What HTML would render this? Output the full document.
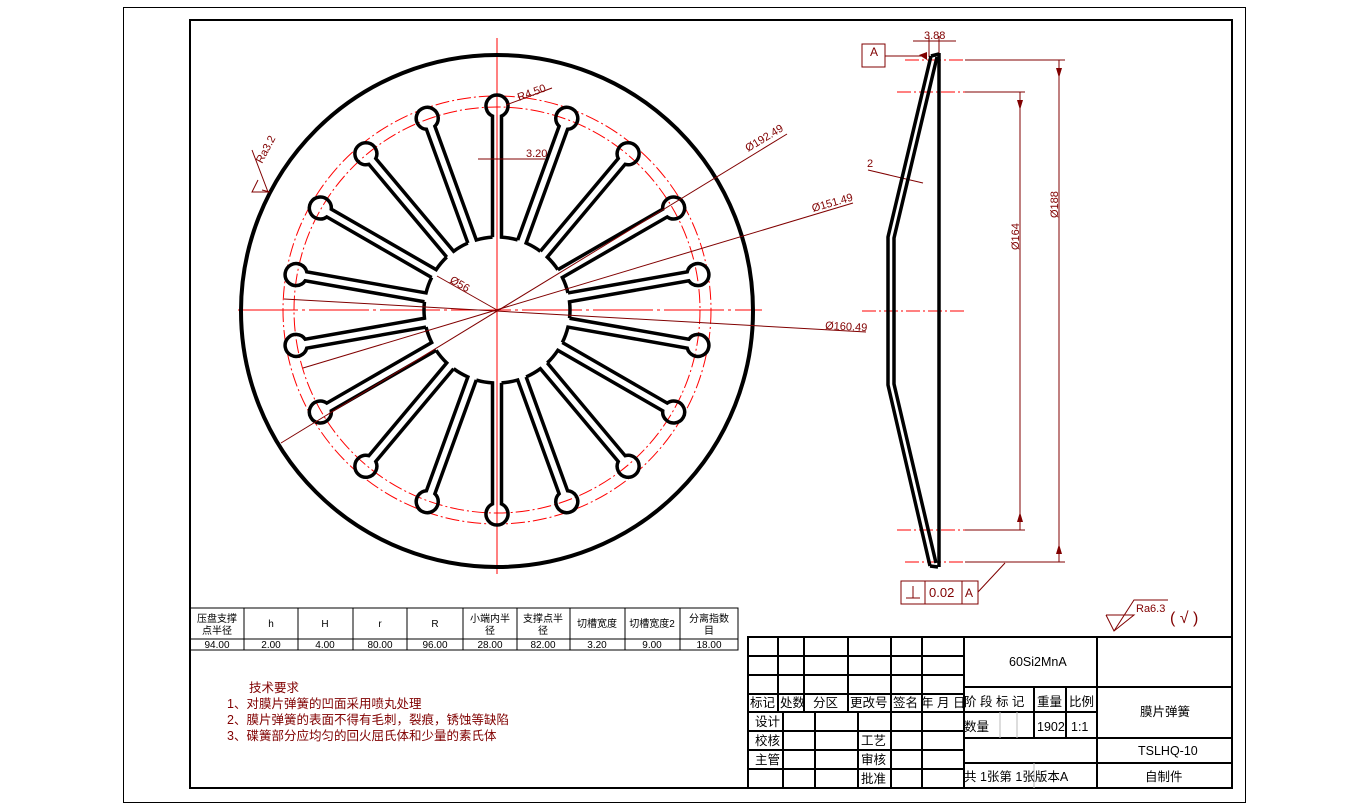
<!DOCTYPE html>
<html><head><meta charset="utf-8"><style>
html,body{margin:0;padding:0;background:#fff;}
svg{display:block;}
text{font-family:"Liberation Sans","Noto Sans CJK SC",sans-serif;}
</style></head><body>
<svg width="1369" height="809" viewBox="0 0 1369 809" xmlns="http://www.w3.org/2000/svg">
<defs>
<path id="slot" d="M-4.5,-72.86 L-4.5,-193.96 A11,11 0 1 1 4.5,-193.96 L4.5,-72.86 A73,73 0 0 1 20.69,-70.01" fill="none" stroke="#000" stroke-width="3.5"/>
</defs>
<rect x="123.5" y="7.5" width="1122" height="795" fill="none" stroke="#000" stroke-width="1"/>
<rect x="190" y="20" width="1042" height="768" fill="none" stroke="#000" stroke-width="2"/>

<!-- main view -->
<g stroke="#ff0000" stroke-width="1" fill="none" stroke-dasharray="14,3,2,3">
<circle cx="497" cy="310" r="203"/>
<circle cx="497" cy="310" r="214"/>
</g>
<line x1="497" y1="38" x2="497" y2="574" stroke="#ff0000" stroke-width="1"/>
<line x1="238" y1="310" x2="762" y2="310" stroke="#ff0000" stroke-width="1" stroke-dasharray="60,4,3,4"/>
<circle cx="497" cy="311" r="256" fill="none" stroke="#000" stroke-width="4"/>
<g transform="translate(497,310)">
<use href="#slot" transform="rotate(0)"/><use href="#slot" transform="rotate(20)"/><use href="#slot" transform="rotate(40)"/>
<use href="#slot" transform="rotate(60)"/><use href="#slot" transform="rotate(80)"/><use href="#slot" transform="rotate(100)"/>
<use href="#slot" transform="rotate(120)"/><use href="#slot" transform="rotate(140)"/><use href="#slot" transform="rotate(160)"/>
<use href="#slot" transform="rotate(180)"/><use href="#slot" transform="rotate(200)"/><use href="#slot" transform="rotate(220)"/>
<use href="#slot" transform="rotate(240)"/><use href="#slot" transform="rotate(260)"/><use href="#slot" transform="rotate(280)"/>
<use href="#slot" transform="rotate(300)"/><use href="#slot" transform="rotate(320)"/><use href="#slot" transform="rotate(340)"/>
</g>
<!-- dimension leaders -->
<g stroke="#800000" stroke-width="1" fill="none">
<line x1="281" y1="443" x2="787" y2="134"/>
<line x1="303" y1="368" x2="853" y2="203"/>
<line x1="284" y1="299" x2="866" y2="332"/>
<line x1="437" y1="276" x2="497" y2="310"/>
<line x1="506" y1="105" x2="552" y2="88"/>
<line x1="478" y1="159" x2="545" y2="159"/>
<polyline points="255,158 252,150 268,192 252,192 258,180"/>
<line x1="262" y1="190" x2="270" y2="192"/>
</g>
<g fill="#800000" font-size="11">
<text transform="translate(748,152) rotate(-31)">Ø192.49</text>
<text transform="translate(813,212) rotate(-16)">Ø151.49</text>
<text transform="translate(825,329) rotate(3)">Ø160.49</text>
<text transform="translate(449,282) rotate(30)">Ø56</text>
<text transform="translate(519,101) rotate(-20)">R4.50</text>
<text x="526" y="157">3.20</text>
<text transform="translate(262,164) rotate(-62)">Ra3.2</text>
</g>

<!-- side view -->
<g stroke="#ff0000" stroke-width="1" stroke-dasharray="14,3,2,3">
<line x1="905" y1="60" x2="965" y2="60"/>
<line x1="897" y1="92" x2="965" y2="92"/>
<line x1="897" y1="530" x2="965" y2="530"/>
<line x1="905" y1="562" x2="965" y2="562"/>
<line x1="862" y1="311" x2="966" y2="311"/>
</g>
<g stroke="#800000" stroke-width="1" fill="none">
<line x1="965" y1="60" x2="1065" y2="60"/>
<line x1="965" y1="92" x2="1025" y2="92"/>
<line x1="965" y1="530" x2="1025" y2="530"/>
<line x1="965" y1="562" x2="1065" y2="562"/>
<line x1="1020" y1="92" x2="1020" y2="530"/>
<line x1="1059" y1="60" x2="1059" y2="562"/>
<line x1="913" y1="41" x2="956" y2="41"/>
<line x1="929" y1="36" x2="929" y2="57"/>
<line x1="939" y1="36" x2="939" y2="57"/>
<line x1="885" y1="56" x2="926" y2="56"/>
<rect x="862" y="44" width="23" height="23"/>
<line x1="868" y1="170" x2="923" y2="183"/>
<rect x="901" y="581" width="77" height="23"/>
<line x1="925" y1="581" x2="925" y2="604"/>
<line x1="962" y1="581" x2="962" y2="604"/>
<line x1="906" y1="598" x2="920" y2="598"/>
<line x1="913" y1="586" x2="913" y2="598"/>
<line x1="978" y1="592" x2="1005" y2="563"/>
</g>
<g fill="#800000">
<polygon points="1017,100 1023,100 1020,110"/>
<polygon points="1017,522 1023,522 1020,512"/>
<polygon points="1056,68 1062,68 1059,78"/>
<polygon points="1056,554 1062,554 1059,544"/>
<polygon points="919,55 927,52 927,60"/>
</g>
<g fill="#800000" font-size="11">
<text x="924" y="39">3.88</text>
<text x="870" y="56" font-size="12">A</text>
<text x="867" y="167">2</text>
<text transform="translate(1019,250) rotate(-90)">Ø164</text>
<text transform="translate(1058,218) rotate(-90)">Ø188</text>
<text x="929" y="597" font-size="13">0.02</text>
<text x="965" y="597" font-size="12">A</text>
</g>
<g stroke="#000" stroke-width="3.5" fill="none" stroke-linejoin="round">
<polyline points="931,56 888,237 888,385 930,566"/>
<polyline points="937,57 894,238 894,384 936,563"/>
<line x1="939" y1="53" x2="939" y2="567"/>
<line x1="931" y1="56" x2="939" y2="54"/>
<line x1="930" y1="566" x2="938" y2="567"/>
</g>

<!-- Ra6.3 -->
<g stroke="#800000" stroke-width="1" fill="none">
<polyline points="1106,615 1134,615 1114,631 1106,615"/>
<polyline points="1114,631 1134,600 1168,600"/>
</g>
<text x="1136" y="612" font-size="11" fill="#800000">Ra6.3</text>
<text x="1170" y="623" font-size="16" fill="#800000">( √ )</text>

<!-- param table -->
<g stroke="#000" stroke-width="1" fill="none">
<rect x="190" y="608" width="548" height="42"/>
<line x1="190" y1="639" x2="738" y2="639"/>
<line x1="244" y1="608" x2="244" y2="650"/><line x1="298" y1="608" x2="298" y2="650"/>
<line x1="353" y1="608" x2="353" y2="650"/><line x1="407" y1="608" x2="407" y2="650"/>
<line x1="463" y1="608" x2="463" y2="650"/><line x1="517" y1="608" x2="517" y2="650"/>
<line x1="570" y1="608" x2="570" y2="650"/><line x1="625" y1="608" x2="625" y2="650"/>
<line x1="680" y1="608" x2="680" y2="650"/>
</g>
<g font-size="10" fill="#000" text-anchor="middle">
<text x="217" y="622">压盘支撑</text><text x="217" y="634">点半径</text>
<text x="271" y="627">h</text><text x="325" y="627">H</text><text x="380" y="627">r</text><text x="435" y="627">R</text>
<text x="490" y="622">小端内半</text><text x="490" y="634">径</text>
<text x="543" y="622">支撑点半</text><text x="543" y="634">径</text>
<text x="597" y="627">切槽宽度</text><text x="652" y="627">切槽宽度2</text>
<text x="709" y="622">分离指数</text><text x="709" y="634">目</text>
<text x="217" y="648">94.00</text><text x="271" y="648">2.00</text><text x="325" y="648">4.00</text>
<text x="380" y="648">80.00</text><text x="435" y="648">96.00</text><text x="490" y="648">28.00</text>
<text x="543" y="648">82.00</text><text x="597" y="648">3.20</text><text x="652" y="648">9.00</text>
<text x="709" y="648">18.00</text>
</g>

<!-- tech requirements -->
<g font-size="12.5" fill="#800000">
<text x="249" y="692">技术要求</text>
<text x="227" y="708">1、对膜片弹簧的凹面采用喷丸处理</text>
<text x="227" y="724">2、膜片弹簧的表面不得有毛刺，裂痕，锈蚀等缺陷</text>
<text x="227" y="740">3、碟簧部分应均匀的回火屈氏体和少量的素氏体</text>
</g>

<!-- title block -->
<g stroke="#000" stroke-width="2" fill="none">
<rect x="748" y="637" width="484" height="151"/>
<line x1="748" y1="656" x2="964" y2="656"/><line x1="748" y1="675" x2="964" y2="675"/>
<line x1="748" y1="694" x2="964" y2="694"/><line x1="748" y1="712" x2="964" y2="712"/>
<line x1="748" y1="731" x2="964" y2="731"/><line x1="748" y1="750" x2="964" y2="750"/>
<line x1="748" y1="769" x2="964" y2="769"/>
<line x1="778" y1="637" x2="778" y2="712"/><line x1="804" y1="637" x2="804" y2="712"/>
<line x1="848" y1="637" x2="848" y2="712"/><line x1="891" y1="637" x2="891" y2="788"/>
<line x1="922" y1="637" x2="922" y2="788"/>
<line x1="783" y1="712" x2="783" y2="788"/><line x1="815" y1="712" x2="815" y2="788"/>
<line x1="858" y1="712" x2="858" y2="788"/>
<line x1="964" y1="637" x2="964" y2="788"/><line x1="1097" y1="637" x2="1097" y2="788"/>
<line x1="964" y1="687" x2="1232" y2="687"/><line x1="964" y1="712" x2="1097" y2="712"/>
<line x1="964" y1="738" x2="1232" y2="738"/><line x1="964" y1="763" x2="1232" y2="763"/>
<line x1="1034" y1="687" x2="1034" y2="738"/><line x1="1066" y1="687" x2="1066" y2="738"/>
</g>
<g stroke="#bbb" stroke-width="1"><line x1="1000" y1="712" x2="1000" y2="738"/><line x1="1017" y1="712" x2="1017" y2="738"/><line x1="1034" y1="763" x2="1034" y2="788"/></g>
<g font-size="12.5" fill="#000">
<text x="750" y="707">标记</text><text x="780" y="707">处数</text><text x="813" y="707">分区</text>
<text x="850" y="707">更改号</text><text x="893" y="707">签名</text><text x="921" y="707">年 月 日</text>
<text x="755" y="726">设计</text><text x="755" y="745">校核</text><text x="755" y="764">主管</text>
<text x="861" y="745">工艺</text><text x="861" y="764">审核</text><text x="861" y="783">批准</text>
<text x="1009" y="666">60Si2MnA</text>
<text x="964" y="706">阶 段 标 记</text><text x="1037" y="706">重量</text><text x="1069" y="706">比例</text>
<text x="964" y="731">数量</text><text x="1037" y="731">1902</text><text x="1071" y="731">1:1</text>
<text x="964" y="781">共 1张第 1张版本A</text>
<text x="1140" y="716">膜片弹簧</text><text x="1138" y="755">TSLHQ-10</text><text x="1145" y="781">自制件</text>
</g>
</svg>
</body></html>
